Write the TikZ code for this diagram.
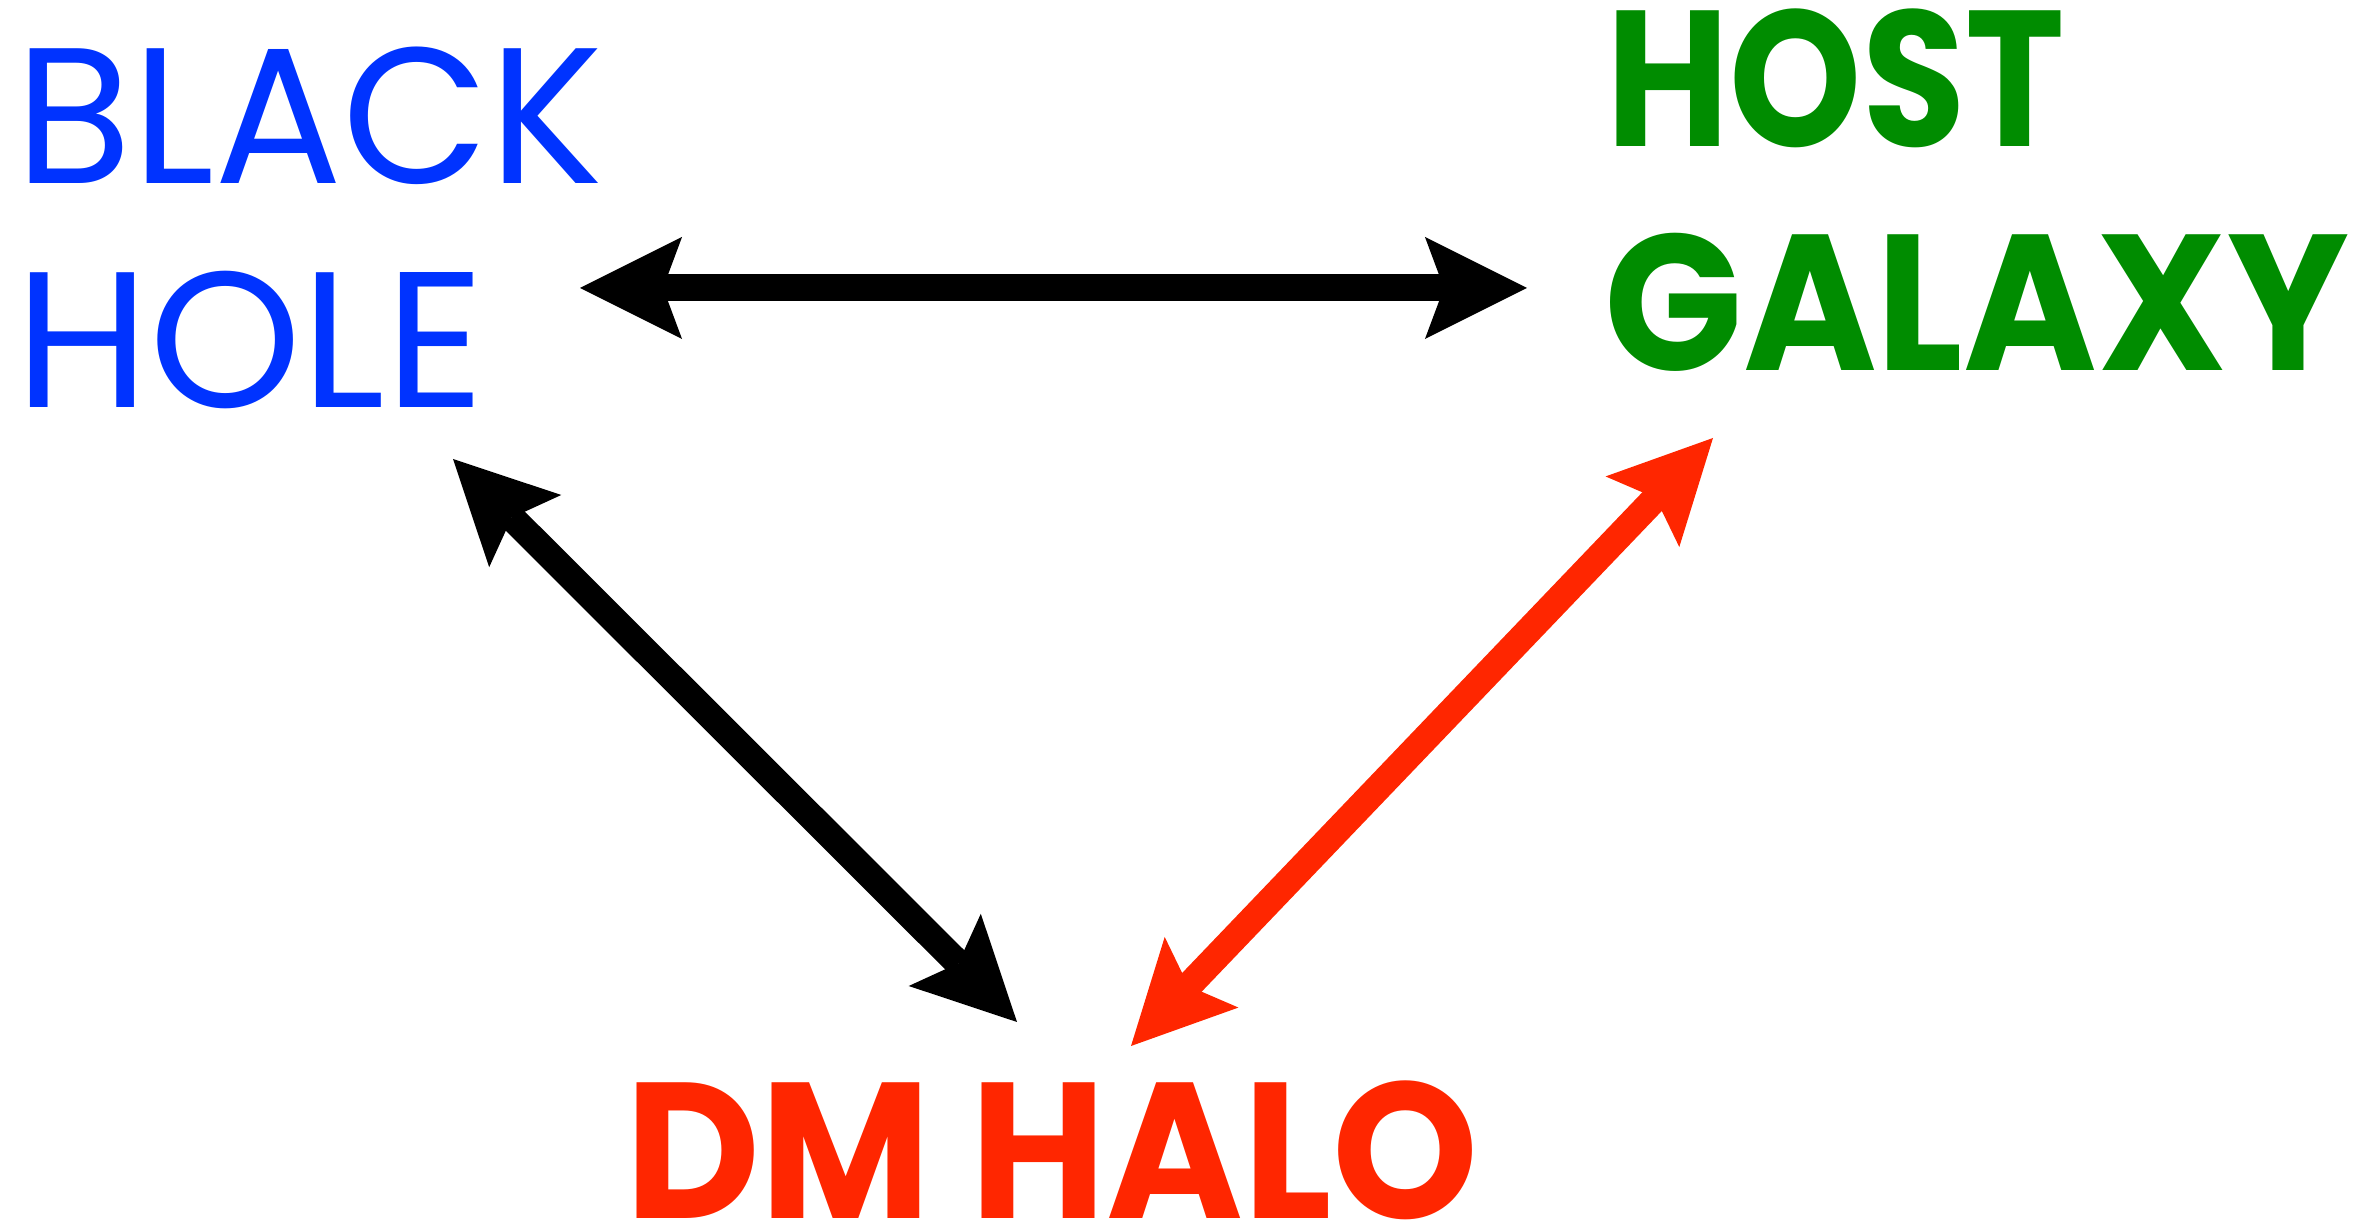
\documentclass[tikz,border=0pt]{standalone}
\usepackage{fontspec}
\setmainfont{Poppins}
\usepackage{graphicx}
\usepackage{xcolor}
\definecolor{bhblue}{RGB}{0,51,255}
\definecolor{hggreen}{RGB}{0,140,0}
\definecolor{dmred}{RGB}{255,38,0}
\usepackage{tikz}
\usetikzlibrary{arrows.meta,positioning}
\newsavebox{\wordbox}
% squeeze or stretch a word to a given width, height kept
\newcommand{\fitword}[2]{\sbox{\wordbox}{#2}\pgfmathsetmacro{\fitfac}{#1/\wd\wordbox}\scalebox{\fitfac}[1]{\usebox{\wordbox}}}

\begin{document}
\begin{tikzpicture}[
    x=0.01cm, y=-0.01cm,
    word/.style={inner sep=0pt, anchor=base west, font=\fontsize{55}{64}\selectfont},
    boldword/.style={word, font=\fontsize{55}{64}\selectfont\bfseries},
    arrow/.style={{Stealth[length=1.02cm, width=1.02cm, inset=0.19cm, line width=0pt]}-{Stealth[length=1.02cm, width=1.02cm, inset=0.19cm, line width=0pt]}, line width=0.27cm}
]
\useasboundingbox (0,0) rectangle (2377,1225);

% labels
\node[word, text=bhblue] (black) at (15,184) {\fitword{5.87cm}{BLACK}};
\node[word, text=bhblue] (hole) at (15,408) {\fitword{4.69cm}{HOLE}};
\node[boldword, text=hggreen] (host) at (1606,147) {\fitword{4.58cm}{HOST}};
\node[boldword, text=hggreen] (galaxy) at (1604,371) {\fitword{7.44cm}{GALAXY}};
\node[boldword, text=dmred] (dmhalo) at (625,1219) {\fitword{8.52cm}{DM HALO}};

% arrow ends
\coordinate (bh-r) at (580,288);
\coordinate (hg-l) at (1527,288);
\coordinate (bh-d) at (453,459);
\coordinate (dm-ul) at (1017,1022);
\coordinate (dm-ur) at (1131,1046);
\coordinate (hg-d) at (1713,438);

\draw[arrow] (bh-r) -- (hg-l);
\draw[arrow] (bh-d) -- (dm-ul);
\draw[arrow, dmred] (dm-ur) -- (hg-d);

\end{tikzpicture}
\end{document}
